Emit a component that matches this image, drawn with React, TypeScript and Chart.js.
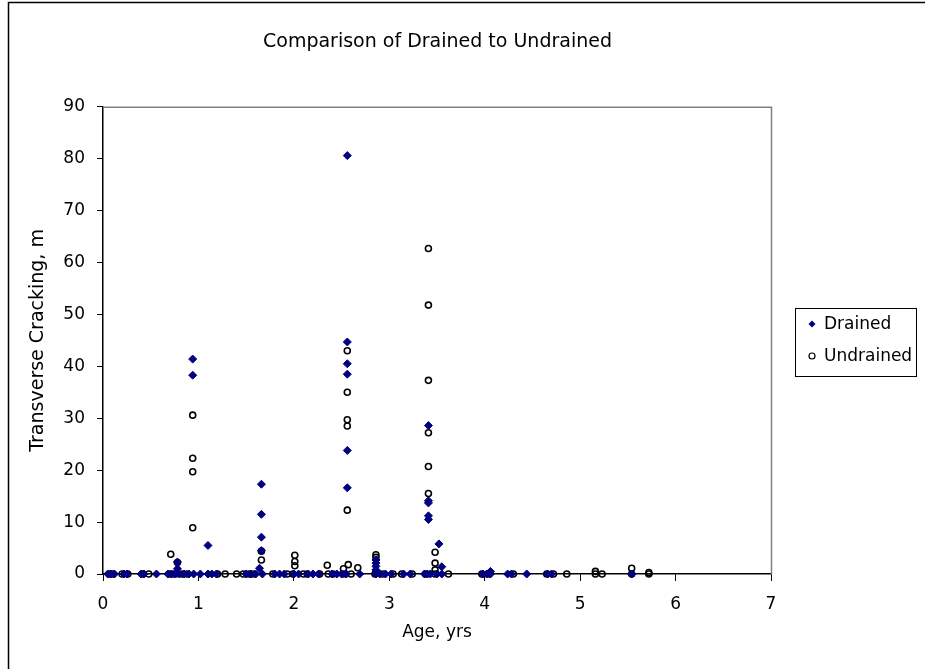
import React, { useEffect, useRef } from 'react';
import { Chart, registerables } from 'chart.js';

Chart.register(...registerables);

const TITLE = 'Comparison of Drained to Undrained';
const X_TITLE = 'Age, yrs';
const Y_TITLE = 'Transverse Cracking, m';
const SERIES_NAMES = ['Drained', 'Undrained'];
const X_TICKS = [0, 1, 2, 3, 4, 5, 6, 7];
const Y_TICKS = [0, 10, 20, 30, 40, 50, 60, 70, 80, 90];

// [age (yrs), transverse cracking (m)]
const drainedPoints: [number, number][] = [
  [0.05, 0], [0.08, 0], [0.12, 0], [0.22, 0], [0.25, 0], [0.4, 0], [0.43, 0], [0.56, 0],
  [0.68, 0], [0.72, 0], [0.75, 0], [0.78, 1.0], [0.78, 2.3], [0.8, 0], [0.85, 0], [0.9, 0],
  [0.94, 41.4], [0.94, 38.3], [0.95, 0], [1.02, 0], [1.1, 0], [1.1, 5.5], [1.14, 0], [1.19, 0],
  [1.5, 0], [1.55, 0], [1.6, 0], [1.64, 1.1], [1.66, 17.3], [1.66, 11.5], [1.66, 7.1], [1.66, 4.5],
  [1.67, 0], [1.8, 0], [1.85, 0], [1.9, 0], [2.0, 0], [2.05, 0], [2.15, 0], [2.2, 0], [2.26, 0],
  [2.4, 0], [2.45, 0], [2.5, 0], [2.55, 0], [2.56, 80.6], [2.56, 44.7], [2.56, 40.5], [2.56, 38.5],
  [2.56, 23.8], [2.56, 16.6], [2.69, 0], [2.86, 0], [2.86, 2.7], [2.86, 2.1], [2.86, 1.5], [2.86, 0.8],
  [2.9, 0], [2.96, 0], [3.02, 0], [3.15, 0], [3.22, 0], [3.37, 0], [3.4, 0], [3.41, 28.6],
  [3.41, 14.1], [3.41, 13.7], [3.41, 11.2], [3.41, 10.5], [3.43, 0], [3.5, 0], [3.52, 5.8],
  [3.55, 0], [3.55, 1.4], [3.98, 0], [4.02, 0], [4.06, 0], [4.06, 0.5], [4.24, 0], [4.28, 0],
  [4.44, 0], [4.66, 0], [4.7, 0], [5.54, 0],
];

const undrainedPoints: [number, number][] = [
  [0.07, 0], [0.1, 0], [0.2, 0], [0.26, 0], [0.41, 0], [0.48, 0], [0.7, 0], [0.71, 3.8],
  [0.76, 0], [0.78, 2.2], [0.83, 0], [0.88, 0], [0.94, 30.6], [0.94, 22.3], [0.94, 19.7], [0.94, 8.9],
  [1.2, 0], [1.28, 0], [1.4, 0], [1.47, 0], [1.53, 0], [1.58, 0], [1.66, 4.4], [1.66, 2.7],
  [1.78, 0], [1.93, 0], [1.99, 0], [2.01, 3.6], [2.01, 2.4], [2.01, 1.6], [2.1, 0], [2.14, 0],
  [2.27, 0], [2.35, 1.7], [2.36, 0], [2.41, 0], [2.52, 0], [2.52, 1.0], [2.56, 43.0], [2.56, 35.0],
  [2.56, 29.7], [2.56, 28.5], [2.56, 12.3], [2.57, 1.8], [2.6, 0], [2.67, 1.2], [2.85, 0],
  [2.86, 3.7], [2.86, 3.2], [2.93, 0], [3.04, 0], [3.13, 0], [3.24, 0], [3.38, 0], [3.41, 62.7],
  [3.41, 51.8], [3.41, 37.3], [3.41, 27.2], [3.41, 20.7], [3.41, 15.5], [3.48, 0], [3.48, 4.2],
  [3.48, 2.1], [3.48, 0.8], [3.62, 0], [3.97, 0], [4.04, 0], [4.3, 0], [4.65, 0], [4.72, 0],
  [4.86, 0], [5.16, 0], [5.16, 0.5], [5.23, 0], [5.54, 0], [5.54, 1.1], [5.72, 0], [5.72, 0.3],
];

const FONT = "'DejaVu Sans', 'Liberation Sans', Arial, sans-serif";
const NAVY = '#000080';

export default function App() {
  const ref = useRef<HTMLCanvasElement | null>(null);

  useEffect(() => {
    document.body.style.margin = '0';
    const canvas = ref.current;
    if (!canvas) return;

    const decor = {
      id: 'decor',
      beforeDraw(chart: any) {
        const { ctx, width, height } = chart;
        ctx.save();
        ctx.fillStyle = '#ffffff';
        ctx.fillRect(0, 0, width, height);
        ctx.strokeStyle = '#000000';
        ctx.lineWidth = 1.5;
        ctx.beginPath();
        ctx.moveTo(8.5, height);
        ctx.lineTo(8.5, 2.5);
        ctx.lineTo(width, 2.5);
        ctx.stroke();
        ctx.restore();
      },
      beforeDatasetsDraw(chart: any) {
        const { ctx, chartArea: a } = chart;
        ctx.save();
        ctx.strokeStyle = '#808080';
        ctx.lineWidth = 1.5;
        ctx.beginPath();
        ctx.moveTo(a.left, a.top + 0.5);
        ctx.lineTo(a.right + 0.5, a.top + 0.5);
        ctx.lineTo(a.right + 0.5, a.bottom);
        ctx.stroke();
        ctx.restore();
      },
      afterDraw(chart: any) {
        const { ctx, chartArea: a } = chart;
        const left = Math.round(a.right) + 24;
        const top = Math.round((a.top + a.bottom) / 2) - 32;
        const w = 121;
        const h = 68;
        ctx.save();
        ctx.strokeStyle = '#000000';
        ctx.lineWidth = 1;
        ctx.strokeRect(left + 0.5, top + 0.5, w, h);
        ctx.font = `17px ${FONT}`;
        ctx.textBaseline = 'middle';
        ctx.textAlign = 'left';
        const rows = [top + 16, top + 48];
        const mx = left + 17;
        ctx.fillStyle = NAVY;
        ctx.beginPath();
        ctx.moveTo(mx, rows[0] - 3.5);
        ctx.lineTo(mx + 3.5, rows[0]);
        ctx.lineTo(mx, rows[0] + 3.5);
        ctx.lineTo(mx - 3.5, rows[0]);
        ctx.closePath();
        ctx.fill();
        ctx.strokeStyle = '#000000';
        ctx.lineWidth = 1.2;
        ctx.beginPath();
        ctx.arc(mx, rows[1], 3, 0, Math.PI * 2);
        ctx.stroke();
        ctx.fillStyle = '#000000';
        SERIES_NAMES.forEach((name, i) => {
          ctx.fillText(name, left + 29, rows[i] + 1);
        });
        ctx.restore();
      },
    };

    const chart = new Chart(canvas, {
      type: 'scatter',
      data: {
        datasets: [
          {
            label: SERIES_NAMES[0],
            data: drainedPoints.map(([x, y]) => ({ x, y })),
            pointStyle: 'rectRot',
            pointRadius: 4,
            backgroundColor: NAVY,
            borderColor: NAVY,
            borderWidth: 1,
            clip: false,
          },
          {
            label: SERIES_NAMES[1],
            data: undrainedPoints.map(([x, y]) => ({ x, y })),
            pointStyle: 'circle',
            pointRadius: 3,
            backgroundColor: 'rgba(255,255,255,0)',
            borderColor: '#000000',
            borderWidth: 1.6,
            clip: false,
          },
        ],
      },
      plugins: [decor],
      options: {
        responsive: false,
        animation: false,
        events: [],
        layout: { padding: { left: 0, right: 50, top: 0, bottom: 0 } },
        plugins: {
          legend: { display: false },
          tooltip: { enabled: false },
          title: {
            display: true,
            text: TITLE,
            color: '#000000',
            font: { family: FONT, size: 19, weight: 'normal' },
            padding: { top: 31, bottom: 53 },
          },
        },
        scales: {
          x: {
            type: 'linear',
            min: X_TICKS[0],
            max: X_TICKS[X_TICKS.length - 1],
            afterBuildTicks: (s: any) => {
              s.ticks = X_TICKS.map((v) => ({ value: v }));
            },
            ticks: { color: '#000000', font: { family: FONT, size: 17 }, padding: 13 },
            grid: { drawOnChartArea: false, drawTicks: true, tickLength: 7, tickColor: '#000000', color: '#000000' },
            border: { display: true, color: '#000000', width: 1.5 },
            title: {
              display: true,
              text: X_TITLE,
              color: '#000000',
              font: { family: FONT, size: 17 },
              padding: { top: 0, bottom: 26 },
            },
            afterFit: (s: any) => {
              s.height = 95;
            },
          },
          y: {
            type: 'linear',
            min: Y_TICKS[0],
            max: Y_TICKS[Y_TICKS.length - 1],
            afterBuildTicks: (s: any) => {
              s.ticks = Y_TICKS.map((v) => ({ value: v }));
            },
            ticks: { color: '#000000', font: { family: FONT, size: 17 }, padding: 12 },
            grid: { drawOnChartArea: false, drawTicks: true, tickLength: 6, tickColor: '#000000', color: '#000000' },
            border: { display: true, color: '#000000', width: 1.5 },
            title: {
              display: true,
              text: Y_TITLE,
              color: '#000000',
              font: { family: FONT, size: 19 },
              padding: { top: 27, bottom: 0 },
            },
            afterFit: (s: any) => {
              s.width = 103;
            },
          },
          spacer: {
            type: 'linear',
            position: 'right',
            display: true,
            ticks: { display: false },
            grid: { display: false },
            border: { display: false },
            afterFit: (s: any) => {
              s.width = 104;
            },
          },
        },
      } as any,
    });

    return () => {
      chart.destroy();
    };
  }, []);

  return (
    <div style={{ position: 'fixed', left: 0, top: 0, width: 925, height: 669, background: '#fff' }}>
      <canvas ref={ref} width={925} height={669} style={{ width: 925, height: 669, display: 'block' }} />
    </div>
  );
}
